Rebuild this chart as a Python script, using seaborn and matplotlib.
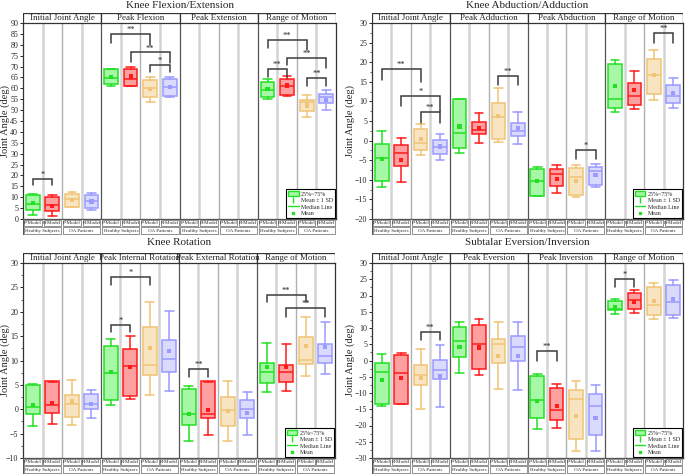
import matplotlib
matplotlib.use("Agg")
import matplotlib.pyplot as plt
import seaborn as sns
import pandas as pd
from matplotlib.patches import Rectangle, Patch
from matplotlib.lines import Line2D
from matplotlib.ticker import MultipleLocator

sns.set_theme(style="ticks")
plt.rcParams['font.family'] = ['Liberation Serif', 'DejaVu Serif']

models = ["P-Model", "R-Model"]
groups = ["Healthy Subjects", "OA Patients"]
edge_colors = ["#22e022", "#ff1a1a", "#f0c474", "#9a9aff"]
face_colors = ["#a6f7a6", "#ffa0a0", "#f9e4c2", "#dadaff"]

titles = ["Knee Flexion/Extension", "Knee Abduction/Adduction",
          "Knee Rotation", "Subtalar Eversion/Inversion"]
flex_cats = ["Initial Joint Angle", "Peak Flexion", "Peak Extension", "Range of Motion"]
abad_cats = ["Initial Joint Angle", "Peak Adduction", "Peak Abduction", "Range of Motion"]
rot_cats = ["Initial Joint Angle", "Peak Internal Rotation", "Peak External Rotation", "Range of Motion"]
sub_cats = ["Initial Joint Angle", "Peak Eversion", "Peak Inversion", "Range of Motion"]

# each box: whisker low (mean-SD), Q1, median, Q3, whisker high (mean+SD), mean
# order per category: Healthy P, Healthy R, OA P, OA R ; None = no data
flex_stats = [
    [2.0, 4.0, 6.8, 10.8, 11.7, 7.2], [1.4, 3.8, 6.5, 10.0, 11.1, 6.1],
    [5.4, 5.5, 9.1, 11.4, 12.4, 8.9], [4.3, 5.2, 8.3, 10.8, 12.1, 8.0],
    [61.0, 61.9, 64.8, 68.7, 69.1, 65.3], [61.0, 61.3, 64.2, 68.7, 69.6, 65.4],
    [53.9, 56.1, 60.2, 63.6, 65.3, 59.6], [56.0, 56.7, 60.5, 64.4, 65.1, 60.5],
    None, None, None, None,
    [55.0, 56.2, 59.3, 63.1, 64.5, 59.6], [56.4, 57.1, 61.3, 64.5, 65.7, 61.3],
    [47.0, 49.6, 53.8, 54.7, 57.1, 52.1], [50.1, 53.1, 55.8, 57.4, 59.4, 54.7],
]
abad_stats = [
    [-11.9, -10.4, -4.5, -0.9, 2.5, -4.75], [-10.5, -6.6, -3.2, -1.2, 0.7, -4.9],
    [-3.8, -2.3, -0.7, 2.9, 4.3, 0.4], [-4.9, -3.3, -1.7, 0.2, 1.6, -1.5],
    [-3.2, -1.9, 1.9, 10.7, 10.7, 3.6], [-0.7, 1.6, 2.7, 4.7, 7.1, 3.3],
    [-0.4, 0.4, 5.9, 9.7, 13.4, 6.3], [-0.9, 1.1, 2.4, 4.6, 7.4, 3.3],
    [-14.1, -14.1, -10.2, -7.3, -6.8, -10.3], [-13.3, -11.7, -8.5, -7.3, -6.1, -9.7],
    [-14.5, -13.8, -9.3, -7.0, -6.1, -10.3], [-11.9, -11.2, -7.8, -6.7, -5.9, -8.8],
    [7.3, 8.3, 10.7, 19.6, 20.5, 14.0], [8.1, 9.1, 11.4, 14.6, 17.8, 12.9],
    [10.4, 11.9, 16.7, 20.7, 23.0, 16.7], [8.2, 9.5, 11.3, 14.3, 15.9, 12.1],
]
rot_stats = [
    [-3.4, -1.0, 0.4, 5.0, 5.1, 0.9], [-3.0, -0.8, 0.9, 5.7, 5.6, 1.3],
    [-3.2, -1.5, 1.1, 2.9, 6.1, 1.6], [-1.8, 0.1, 1.1, 3.2, 4.0, 1.1],
    [0.8, 1.8, 7.4, 12.9, 14.5, 7.7], [2.1, 2.8, 8.8, 12.3, 15.0, 8.6],
    [2.9, 7.1, 9.0, 16.8, 22.1, 12.5], [3.8, 7.7, 10.3, 14.3, 20.2, 12.0],
    [-6.6, -3.2, -1.0, 4.1, 4.7, -1.0], [-5.3, -1.8, -0.9, 5.7, 5.6, -0.1],
    [-6.5, -3.5, -0.1, 2.6, 5.7, -0.4], [-5.3, -1.8, 0.1, 1.8, 3.6, -0.7],
    [3.6, 5.4, 7.7, 9.4, 13.5, 8.6], [3.7, 5.5, 7.6, 9.0, 13.4, 8.6],
    [6.8, 9.2, 10.2, 14.8, 19.0, 12.9], [7.3, 9.5, 11.0, 13.4, 18.0, 12.8],
]
sub_stats = [
    [-14.1, -13.4, -3.4, -0.7, 2.0, -6.0], [-13.4, -13.4, -3.7, 1.8, 2.3, -5.5],
    [-14.8, -7.5, -4.4, -1.4, 3.5, -5.5], [-14.3, -5.7, -2.8, 0.3, 4.9, -4.7],
    [-3.9, 1.0, 6.0, 10.2, 12.0, 4.1], [-4.6, -2.6, 5.1, 10.9, 12.7, 4.0],
    [-8.9, -0.7, 5.0, 6.6, 11.7, 1.4], [-9.2, -0.1, 4.2, 7.4, 11.7, 1.4],
    [-21.0, -17.8, -12.0, -4.8, -4.3, -12.4], [-20.9, -18.2, -15.1, -8.4, -7.3, -14.0],
    [-27.9, -24.2, -11.7, -9.0, -6.2, -17.1], [-27.7, -22.8, -13.9, -10.4, -7.4, -17.6],
    [14.4, 15.4, 16.0, 18.2, 18.8, 16.5], [14.6, 16.0, 18.5, 20.8, 21.6, 17.9],
    [12.7, 13.9, 17.0, 22.7, 23.9, 18.3], [13.2, 14.1, 17.9, 23.2, 24.7, 18.9],
]

# significance brackets: (box a, box b, top, left leg end, right leg end, label)
flex_sig = [(0, 1, 18.3, 15.8, 15.8, "*"), (4, 6, 84.8, 80.8, 80.0, "**"),
            (5, 7, 76.5, 72.3, 71.5, "**"), (6, 7, 70.7, 67.3, 67.3, "*"),
            (12, 14, 82.3, 78.5, 77.5, "**"), (13, 15, 74.0, 70.5, 69.5, "**"),
            (12, 13, 69.0, 65.4, 65.4, "**"), (14, 15, 64.7, 61.1, 61.1, "**")]
abad_sig = [(0, 2, 18.3, 15.5, 15.0, "**"), (1, 3, 11.4, 8.7, 7.4, "*"),
            (2, 3, 7.35, 4.6, 4.6, "**"), (6, 7, 16.5, 14.2, 14.2, "**"),
            (10, 11, -2.4, -4.6, -4.6, "*"), (14, 15, 27.4, 24.9, 24.9, "**")]
rot_sig = [(4, 6, 27.1, 25.4, 25.4, "*"), (4, 5, 17.3, 15.8, 15.8, "*"),
           (8, 9, 8.3, 6.6, 6.6, "**"), (12, 14, 23.5, 22.0, 22.0, "**"),
           (13, 15, 20.8, 18.9, 18.9, "**")]
sub_sig = [(2, 3, 8.9, 6.4, 6.4, "**"), (8, 9, 2.9, -0.3, -0.3, "**"),
           (12, 13, 25.2, 22.5, 22.5, "*")]

panels = [
    (titles[0], flex_cats, flex_stats, flex_sig, (0, 90), None),
    (titles[1], abad_cats, abad_stats, abad_sig, (-20, 30), 2.5),
    (titles[2], rot_cats, rot_stats, rot_sig, (-10, 30), 2.5),
    (titles[3], sub_cats, sub_stats, sub_sig, (-30, 30), 2.5),
]
# pixel geometry: left, right, top, bottom of plotting area, title y, ylabel x
geom = [(23, 336, 23, 219, 5, 5), (372, 683, 23, 219, 5, 350),
        (23, 335, 263, 458, 243, 5), (372, 683, 263, 458, 243, 350)]

W, H = 685, 474
fig = plt.figure(figsize=(W / 100, H / 100), dpi=100)


def rect(l, r, t, b):
    return [l / W, 1 - b / H, (r - l) / W, (b - t) / H]


for (title, cats, stats, sigs, ylim, minor), (l, r, t, b, ty, yx) in zip(panels, geom):
    ax = fig.add_axes(rect(l, r, t, b))
    ax.set_xlim(-0.5, 15.5)
    ax.set_ylim(*ylim)

    # column separators
    for k in range(15):
        xk = k + 0.5
        if k % 4 == 3:
            ax.axvline(xk, color="#555555", lw=0.9, zorder=0)
        elif k % 2 == 1:
            ax.axvline(xk, color="#b0b0b0", lw=1.0, zorder=0)
        else:
            ax.axvline(xk, color="#d4d4d4", lw=1.8, zorder=0)

    bstats, pos, cidx = [], [], []
    for k, s in enumerate(stats):
        if s is None:
            continue
        bstats.append(dict(whislo=s[0], q1=s[1], med=s[2], q3=s[3], whishi=s[4],
                           mean=s[5], fliers=[]))
        pos.append(k)
        cidx.append(k % 4)
    art = ax.bxp(bstats, positions=pos, widths=0.7, patch_artist=True,
                 showfliers=False, showmeans=False, manage_ticks=False,
                 capwidths=0.45)
    for i, c in enumerate(cidx):
        art["boxes"][i].set(facecolor=face_colors[c], edgecolor=edge_colors[c],
                            linewidth=1.1, zorder=2)
        art["medians"][i].set(color=edge_colors[c], linewidth=1.1, zorder=3)
        for w in art["whiskers"][2 * i:2 * i + 2] + art["caps"][2 * i:2 * i + 2]:
            w.set(color=edge_colors[c], linewidth=1.1)

    mdf = pd.DataFrame({"x": pos, "mean": [st["mean"] for st in bstats],
                        "c": [str(c) for c in cidx]})
    sns.scatterplot(data=mdf, x="x", y="mean", hue="c", marker="s", s=9,
                    palette={str(i): edge_colors[i] for i in range(4)},
                    edgecolor="none", legend=False, ax=ax, zorder=4)
    ax.set_xlabel("")

    for a, bb, top, la, rb, lab in sigs:
        ax.plot([a, a, bb, bb], [la, top, top, rb], color="#3c3c3c", lw=1.1,
                solid_joinstyle="miter", zorder=5)
        ax.text((a + bb) / 2, top, lab, ha="center", va="bottom", fontsize=6,
                color="#222222")

    ax.yaxis.set_major_locator(MultipleLocator(5))
    if minor:
        ax.yaxis.set_minor_locator(MultipleLocator(minor))
    ax.set_xticks([])
    ax.tick_params(axis="y", labelsize=5.8, length=2.5, width=0.7, pad=1,
                   direction="out")
    ax.tick_params(axis="y", which="minor", length=1.5, width=0.5)
    for sp in ax.spines.values():
        sp.set_color("#333333")
        sp.set_linewidth(0.9)
    ax.set_ylabel("")
    fig.text(yx / W, 1 - (t + b) / 2 / H, "Joint Angle (deg)", rotation=90,
             ha="center", va="center", fontsize=7.5)
    fig.text((l + r) / 2 / W, 1 - ty / H, title, ha="center", va="center",
             fontsize=8)

    handles = [Patch(facecolor=face_colors[0], edgecolor=edge_colors[0]),
               Line2D([], [], color=edge_colors[0], marker="$\\mathrm{I}$",
                      linestyle="None", markersize=5),
               Line2D([], [], color=edge_colors[0], lw=1),
               Line2D([], [], color=edge_colors[0], marker="s", markersize=2,
                      linestyle="None")]
    leg = ax.legend(handles, ["25%~75%", "Mean \u00b1 1 SD", "Median Line", "Mean"],
                    loc="lower right", fontsize=4.3, frameon=True, fancybox=False,
                    edgecolor="black", framealpha=1, borderpad=0.3,
                    handlelength=1.8, handleheight=0.9, labelspacing=0.15,
                    borderaxespad=0.2, handletextpad=0.4)
    leg.get_frame().set_linewidth(0.8)

    # header row
    hx = fig.add_axes(rect(l, r, t - 10, t))
    hx.set_xlim(-0.5, 15.5)
    hx.set_ylim(0, 1)
    hx.axis("off")
    for ci, cname in enumerate(cats):
        hx.add_patch(Rectangle((ci * 4 - 0.5, 0), 4, 1, facecolor="white",
                               edgecolor="#333333", lw=0.9))
        hx.text(ci * 4 + 1.5, 0.45, cname, ha="center", va="center", fontsize=6.5)

    # bottom label rows
    bx = fig.add_axes(rect(l, r, b, b + 16))
    bx.set_xlim(-0.5, 15.5)
    bx.set_ylim(0, 1)
    bx.axis("off")
    bx.add_patch(Rectangle((-0.5, 0), 16, 1, facecolor="white",
                           edgecolor="#555555", lw=0.8))
    for k in range(16):
        bx.add_patch(Rectangle((k - 0.45, 0.55), 0.9, 0.4, facecolor="white",
                               edgecolor="#666666", lw=0.5))
        bx.text(k, 0.75, models[k % 2], ha="center", va="center", fontsize=3.6)
    for g in range(8):
        bx.add_patch(Rectangle((2 * g - 0.45, 0.05), 1.9, 0.42, facecolor="white",
                               edgecolor="#666666", lw=0.5))
        bx.text(2 * g + 0.5, 0.26, groups[g % 2], ha="center", va="center",
                fontsize=3.6)

fig.savefig("out.png", dpi=100)
